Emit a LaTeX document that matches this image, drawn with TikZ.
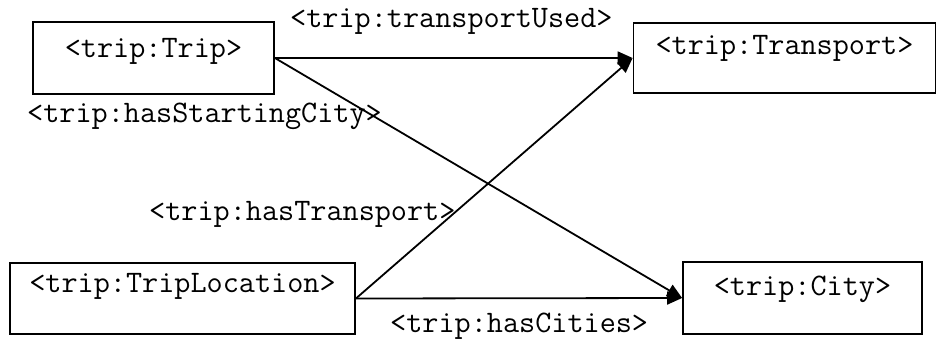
\documentclass[tikz,border=0pt]{standalone}
\usepackage{fontspec}
\usetikzlibrary{arrows.meta}

\tikzset{
  labelfont/.style={font=\ttfamily\fontsize{31.3}{34}\selectfont},
  classbox/.style={draw=black, line width=1.8pt, inner sep=0pt,
    text height=20pt, text depth=26pt, labelfont},
  proplabel/.style={inner sep=0pt, anchor=base west, labelfont},
  relation/.style={line width=1.8pt, -{Triangle[length=15pt,width=13pt]}}
}

\begin{document}
\begin{tikzpicture}[x=1pt, y=-1pt]
  \useasboundingbox (0,0) rectangle (937,345);

  % classes
  \node[classbox, minimum width=241pt, minimum height=72pt, text depth=20pt]
    (trip) at (153.5,58) {<trip:Trip>};
  \node[classbox, minimum width=302pt, minimum height=70pt]
    (transport) at (784.5,58) {<trip:Transport>};
  \node[classbox, minimum width=345pt, minimum height=71pt, text depth=32pt]
    (location) at (182.5,298.5) {<trip:TripLocation>};
  \node[classbox, minimum width=239pt, minimum height=72pt]
    (city) at (802.5,298) {<trip:City>};

  % properties
  \draw[relation] (trip.east) -- (transport.west);
  \draw[relation] (trip.east) -- (city.west);
  \draw[relation] (location.east) -- (transport.west);
  \draw[relation] (location.east) -- (city.west);

  % property names
  \node[proplabel] (lblUsed) at (290,28) {<trip:transportUsed>};
  \node[proplabel] (lblStart) at (27,122) {<trip:hasStartingCity>};
  \node[proplabel] (lblTrans) at (149,220) {<trip:hasTransport>};
  \node[proplabel] (lblCities) at (390,332) {<trip:hasCities>};
\end{tikzpicture}
\end{document}
